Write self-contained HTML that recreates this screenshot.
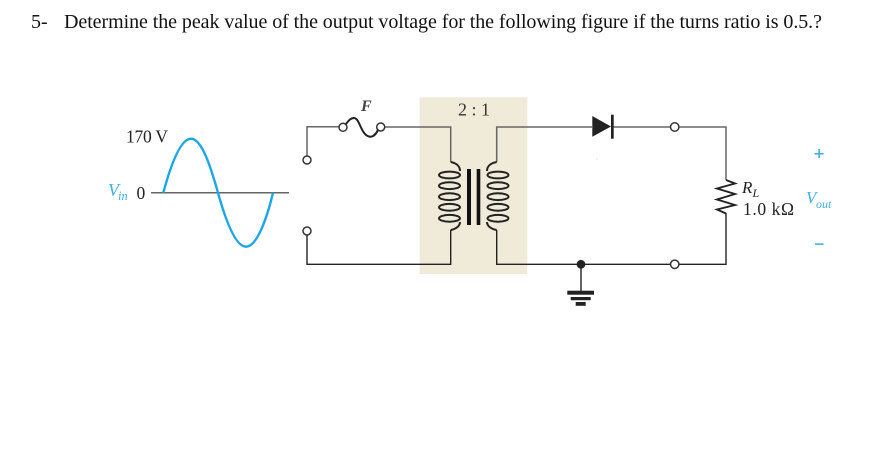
<!DOCTYPE html>
<html>
<head>
<meta charset="utf-8">
<style>
html,body{margin:0;padding:0;background:#fff;width:893px;height:464px;overflow:hidden}
svg{display:block}
text{font-family:"Liberation Serif",serif}
</style>
</head>
<body>
<svg width="893" height="464" viewBox="0 0 893 464" xmlns="http://www.w3.org/2000/svg">
<rect width="893" height="464" fill="#fff"/>
<text x="31" y="28" font-size="20" fill="#111">5-</text>
<text x="64" y="28" font-size="20" fill="#111" textLength="758" lengthAdjust="spacing">Determine the peak value of the output voltage for the following figure if the turns ratio is 0.5.?</text>

<rect x="419.7" y="97.3" width="107.6" height="176.7" fill="#f0ead9"/>

<!-- wires -->
<g fill="none" stroke="#666" stroke-width="1.5">
<path d="M307 156V126.7H339"/>
<path d="M385 127H450.7V162"/>
<path d="M496.7 162V127H592"/>
<path d="M612 127H670.5M679 127H726V180"/>
<path d="M151 192.7H289"/>
</g>
<g fill="none" stroke="#222" stroke-width="1.4">
<path d="M307 235V264.3H450.7V230"/>
<path d="M496.7 230V264.3H670.5M679 264.3H726V213"/>
<path d="M581 264V291"/>
</g>

<!-- sine -->
<path d="M163.3 192.7C170 168 180 138.7 191 138.7C202 138.7 211 168 218 192.7C225 218 235 246.7 246 246.7C257 246.7 267 218 273 192.7" fill="none" stroke="#1ba6e8" stroke-width="2.4"/>

<!-- terminals -->
<g fill="#fff" stroke="#333" stroke-width="1.5">
<circle cx="307" cy="160" r="4"/>
<circle cx="307" cy="231" r="4"/>
<circle cx="343" cy="127.3" r="4"/>
<circle cx="380.7" cy="127" r="4"/>
<circle cx="674.7" cy="127" r="4.2"/>
<circle cx="674.7" cy="264.3" r="4.2"/>
</g>

<!-- fuse -->
<path d="M346 124C349 120 351 118 354 118C360 118 361 136.7 370.5 136.7C374 136.7 376 134 378 130" fill="none" stroke="#222" stroke-width="2"/>

<!-- coils -->
<g fill="none" stroke="#222" stroke-width="2">
<path d="M450.7 162C456 163 460 166 460 171M450.7 230C456 229 460 226 460 222"/>
<ellipse cx="449.5" cy="175" rx="10.5" ry="3.4"/>
<ellipse cx="449.5" cy="185.7" rx="10.5" ry="3.4"/>
<ellipse cx="449.5" cy="196.7" rx="10.5" ry="3.4"/>
<ellipse cx="449.5" cy="207.3" rx="10.5" ry="3.4"/>
<ellipse cx="449.5" cy="218.3" rx="10.5" ry="3.4"/>
<path d="M496.7 162C491 163 487 166 487 171M496.7 230C491 229 487 226 487 222"/>
<ellipse cx="498" cy="175" rx="10.5" ry="3.4"/>
<ellipse cx="498" cy="185.7" rx="10.5" ry="3.4"/>
<ellipse cx="498" cy="196.7" rx="10.5" ry="3.4"/>
<ellipse cx="498" cy="207.3" rx="10.5" ry="3.4"/>
<ellipse cx="498" cy="218.3" rx="10.5" ry="3.4"/>
</g>
<rect x="467" y="169" width="4" height="56" fill="#111"/>
<rect x="476.7" y="169" width="3.6" height="56" fill="#111"/>

<!-- diode -->
<path d="M592.3 116V136.7L611 126.5Z" fill="#222"/>
<rect x="611" y="114.7" width="2.7" height="24" fill="#222"/>

<!-- resistor -->
<path d="M726 180L735 183.5L717 188.5L735 194L717 199.5L735 205L717 209.5L726 213.5" fill="none" stroke="#222" stroke-width="1.9"/>

<!-- ground -->
<circle cx="581" cy="264.3" r="4.4" fill="#222"/>
<rect x="567.3" y="290.7" width="26.7" height="4" fill="#222"/>
<rect x="570.7" y="297" width="20" height="3.2" fill="#222"/>
<rect x="575.7" y="302" width="10" height="3.8" fill="#222"/>

<!-- labels -->
<text x="126" y="142.5" font-size="17.5" fill="#222" textLength="42">170 V</text>
<text x="108" y="196" font-size="18" font-style="italic" fill="#3fb0ea">V</text>
<text x="118" y="200" font-size="12.5" font-style="italic" fill="#3fb0ea">in</text>
<text x="136.5" y="199" font-size="17.5" fill="#222">0</text>
<text x="361" y="111" font-size="16" font-style="italic" font-weight="bold" fill="#444">F</text>
<text x="458" y="115.5" font-size="18" fill="#333" textLength="32">2 : 1</text>
<text x="742" y="193" font-size="17" font-style="italic" fill="#222">R</text>
<text x="752.5" y="197" font-size="12" font-style="italic" fill="#222">L</text>
<text x="743" y="215" font-size="17.5" fill="#222" textLength="51">1.0 kΩ</text>
<text x="806" y="203" font-size="17" font-style="italic" fill="#3fb0ea">V</text>
<text x="816" y="208" font-size="12" font-style="italic" fill="#3fb0ea">out</text>
<rect x="814.6" y="153" width="9" height="1.6" fill="#3fb0ea"/>
<rect x="818.3" y="149" width="1.6" height="9" fill="#3fb0ea"/>
<rect x="815" y="243.3" width="8.5" height="1.6" fill="#3fb0ea"/>
<rect x="596.5" y="158.5" width="1" height="1" fill="#a9cfe6"/>
</svg>
</body>
</html>
